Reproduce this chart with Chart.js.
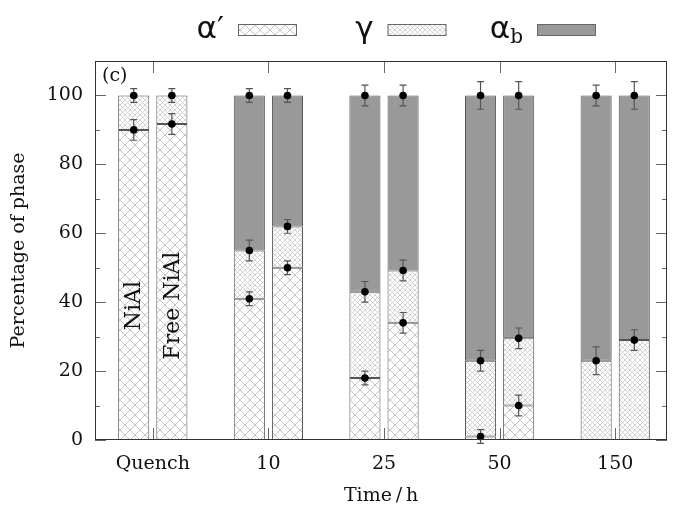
<!DOCTYPE html>
<html><head><meta charset="utf-8">
<script src="https://cdn.jsdelivr.net/npm/chart.js@4.4.0/dist/chart.umd.min.js"></script>
<style>html,body{margin:0;padding:0;background:#fff;} #wrap{width:693px;height:518px;position:relative;}</style>
</head><body><div id="wrap"><canvas id="c" width="693" height="518"></canvas></div>
<script>
// ---- data ----
const categories = ['Quench', '10', '25', '50', '150'];
const seriesNames = ['α′', 'γ', 'α_b'];
const alphaPrimeLeft  = [90, 41, 18, 1, 0];
const gammaLeft       = [10, 14, 25, 22, 23];
const alphaBLeft      = [0, 45, 57, 77, 77];
const alphaPrimeRight = [91.7, 50, 34, 10, 0];
const gammaRight      = [8.3, 12, 15.2, 19.5, 29];
const alphaBRight     = [0, 38, 50.8, 70.5, 71];
const errAlphaPrimeLeft  = [3, 2, 2, 2, 0];
const errGammaLeft       = [2, 3, 3, 3, 4];
const errAlphaBLeft      = [0, 2, 3, 4, 3];
const errAlphaPrimeRight = [3, 2, 3, 3, 0];
const errGammaRight      = [2, 2, 3, 3, 3];
const errAlphaBRight     = [0, 2, 3, 4, 4];
const yTicks = [0, 20, 40, 60, 80, 100];
const yMinorTicks = [10, 30, 50, 70, 90];
const barNotes = ['NiAl', 'Free NiAl'];
const barNoteValue = 39;
const panelLabel = '(c)';

// ---- styles ----
function hatch(period, color, lw) {
  const c = document.createElement('canvas');
  c.width = c.height = period;
  const g = c.getContext('2d');
  g.fillStyle = '#fff'; g.fillRect(0, 0, period, period);
  g.strokeStyle = color; g.lineWidth = lw;
  g.beginPath();
  g.moveTo(-1, -1); g.lineTo(period + 1, period + 1);
  g.moveTo(period + 1, -1); g.lineTo(-1, period + 1);
  g.stroke();
  return g.createPattern(c, 'repeat');
}
const ctx0 = document.getElementById('c').getContext('2d');
const fills = [hatch(10, '#c4c4c4', 1), hatch(5, '#c8c8c8', 0.8), '#999999'];
const SERIF = "'DejaVu Serif', serif";
const LEGEND_FONT = "'DejaVu Sans', sans-serif";
Chart.defaults.font.family = SERIF;
Chart.defaults.font.size = 19;
Chart.defaults.color = '#111';

function pts(arr) { return arr.map((v, i) => ({ x: i, y: v })); }
function ds(si, data, err, stack) {
  return {
    label: seriesNames[si], data: pts(data), err: err, stack: stack, series: si,
    backgroundColor: fills[si], borderColor: '#555', borderWidth: 1, borderSkipped: false,
    categoryPercentage: 0.66, barPercentage: 0.815
  };
}
const datasets = [
  ds(0, alphaPrimeLeft, errAlphaPrimeLeft, 'L'),
  ds(1, gammaLeft, errGammaLeft, 'L'),
  ds(2, alphaBLeft, errAlphaBLeft, 'L'),
  ds(0, alphaPrimeRight, errAlphaPrimeRight, 'R'),
  ds(1, gammaRight, errGammaRight, 'R'),
  ds(2, alphaBRight, errAlphaBRight, 'R')
];

const decor = {
  id: 'decor',
  afterDatasetsDraw(chart) {
    const ctx = chart.ctx, a = chart.chartArea, xs = chart.scales.x, ys = chart.scales.y;
    ctx.save();
    // notes inside first pair of bars
    ctx.font = '22px ' + SERIF; ctx.fillStyle = '#111';
    ctx.textAlign = 'center'; ctx.textBaseline = 'middle';
    [0, 3].forEach((di, k) => {
      const bar = chart.getDatasetMeta(di).data[0];
      ctx.save();
      ctx.translate(bar.x + 1, ys.getPixelForValue(barNoteValue));
      ctx.rotate(-Math.PI / 2);
      ctx.fillText(barNotes[k], 0, 0);
      ctx.restore();
    });
    // error bars + points
    const dots = [];
    chart.data.datasets.forEach((d, di) => {
      const meta = chart.getDatasetMeta(di);
      meta.data.forEach((bar, i) => {
        if (!d.data[i].y) return;
        const v = ys.getValueForPixel(bar.y);
        const e = d.err[i];
        const y1 = ys.getPixelForValue(v + e), y2 = ys.getPixelForValue(v - e);
        ctx.strokeStyle = '#555'; ctx.lineWidth = 1.2;
        ctx.beginPath();
        ctx.moveTo(bar.x, y1); ctx.lineTo(bar.x, y2);
        ctx.moveTo(bar.x - 3.5, y1); ctx.lineTo(bar.x + 3.5, y1);
        ctx.moveTo(bar.x - 3.5, y2); ctx.lineTo(bar.x + 3.5, y2);
        ctx.stroke();
        dots.push([bar.x, bar.y]);
      });
    });
    ctx.fillStyle = '#000';
    dots.forEach(([x, y]) => { ctx.beginPath(); ctx.arc(x, y, 3.8, 0, Math.PI * 2); ctx.fill(); });
    // inward ticks
    ctx.strokeStyle = '#666'; ctx.lineWidth = 1;
    ctx.beginPath();
    yTicks.forEach(t => {
      const y = Math.round(ys.getPixelForValue(t)) + 0.5;
      ctx.moveTo(a.left, y); ctx.lineTo(a.left + 11, y);
      ctx.moveTo(a.right, y); ctx.lineTo(a.right - 11, y);
    });
    yMinorTicks.forEach(t => {
      const y = Math.round(ys.getPixelForValue(t)) + 0.5;
      ctx.moveTo(a.left, y); ctx.lineTo(a.left + 5, y);
      ctx.moveTo(a.right, y); ctx.lineTo(a.right - 5, y);
    });
    categories.forEach((c, i) => {
      const x = Math.round(xs.getPixelForValue(i)) + 0.5;
      ctx.moveTo(x, a.bottom); ctx.lineTo(x, a.bottom - 12);
      ctx.moveTo(x, a.top); ctx.lineTo(x, a.top + 12);
    });
    ctx.stroke();
    // frame
    ctx.strokeStyle = '#333';
    ctx.strokeRect(a.left + 0.5, a.top + 0.5, a.right - a.left - 1, a.bottom - a.top - 1);
    // panel label
    ctx.fillStyle = '#111'; ctx.font = '19px ' + SERIF;
    ctx.textAlign = 'left'; ctx.textBaseline = 'middle';
    ctx.fillText(panelLabel, a.left + 7, a.top + 15);
    ctx.restore();
  },
  afterDraw(chart) {
    const ctx = chart.ctx, a = chart.chartArea;
    ctx.save();
    seriesNames.forEach((name, i) => {
      const bx = a.left + 143 + i * 149.5, by = 24, bw = 59, bh = 12;
      ctx.fillStyle = fills[i];
      ctx.fillRect(bx, by, bw, bh);
      ctx.strokeStyle = '#666'; ctx.lineWidth = 1;
      ctx.strokeRect(bx + 0.5, by + 0.5, bw - 1, bh - 1);
      const [main, sub] = name.split('_');
      ctx.fillStyle = '#111'; ctx.textBaseline = 'alphabetic'; ctx.textAlign = 'left';
      ctx.font = '31px ' + LEGEND_FONT;
      const mw = ctx.measureText(main).width;
      let sw = 0;
      if (sub) { ctx.font = '20px ' + SERIF; sw = ctx.measureText(sub).width; }
      const x0 = bx - 14 - mw - sw;
      ctx.font = '31px ' + LEGEND_FONT;
      ctx.fillText(main, x0, 38);
      if (sub) { ctx.font = '20px ' + SERIF; ctx.fillText(sub, x0 + mw, 43); }
    });
    ctx.restore();
  }
};

new Chart(document.getElementById('c'), {
  type: 'bar',
  data: { datasets: datasets },
  plugins: [decor],
  options: {
    responsive: false, animation: false,
    layout: { padding: { left: 0, right: 26, top: 61, bottom: 0 } },
    plugins: { legend: { display: false }, tooltip: { enabled: false } },
    scales: {
      x: {
        type: 'linear', stacked: true, min: -0.5, max: 4.448, offset: false,
        grid: { display: false, drawTicks: false }, border: { display: false },
        afterBuildTicks: s => { s.ticks = categories.map((_, i) => ({ value: i })); },
        afterFit: s => { s.height = 78; },
        ticks: { padding: 13, callback: v => categories[v] ?? '', autoSkip: false, maxRotation: 0 },
        title: { display: true, text: 'Time\u2009/\u2009h', padding: { top: 0, bottom: 11 } }
      },
      y: {
        stacked: true, min: 0, max: 110,
        grid: { display: false, drawTicks: false }, border: { display: false },
        afterBuildTicks: s => { s.ticks = yTicks.map(v => ({ value: v })); },
        afterFit: s => { s.width = 95; },
        ticks: { padding: 12 },
        title: { display: true, text: 'Percentage of phase', padding: { top: 8, bottom: 0 } }
      }
    }
  }
});
</script></body></html>
